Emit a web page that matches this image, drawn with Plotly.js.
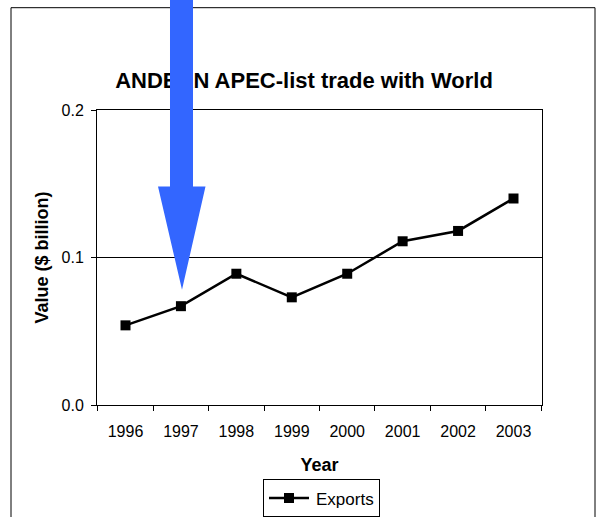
<!DOCTYPE html>
<html>
<head>
<meta charset="utf-8">
<script src="https://cdn.plot.ly/plotly-3.0.1.min.js"></script>
<style>
  html, body { margin: 0; padding: 0; background: #fff; overflow: hidden; }
  #wrap { width: 596px; height: 517px; overflow: hidden; position: relative; }
  #chart { width: 596px; height: 530px; }
</style>
</head>
<body>
<div id="wrap"><div id="chart"></div></div>
<script>
// ---- data ----
var years = ['1996', '1997', '1998', '1999', '2000', '2001', '2002', '2003'];
var exportsValues = [0.054, 0.067, 0.089, 0.073, 0.089, 0.111, 0.118, 0.140];
var seriesName = 'Exports';
var chartTitle = 'ANDEAN APEC-list trade with World';
var xTitle = 'Year';
var yTitle = 'Value ($ billion)';
var yTickValues = [0, 0.1, 0.2];

var FONT = 'Liberation Sans, Arial, sans-serif';
var H = 530; // figure is a little taller than the view; the frame runs off the bottom as in the reference

var trace = {
  type: 'scatter',
  mode: 'lines+markers',
  x: years,
  y: exportsValues,
  name: seriesName,
  line: { color: '#000000', width: 2.5 },
  marker: { symbol: 'square', size: 10, color: '#000000' },
  showlegend: true
};

var layout = {
  width: 596,
  height: H,
  margin: { l: 97, r: 54, t: 110, b: H - 407 },
  paper_bgcolor: '#ffffff',
  plot_bgcolor: '#ffffff',
  font: { family: FONT, color: '#000000', size: 16 },
  title: {
    text: '<b>' + chartTitle + '</b>',
    font: { family: FONT, size: 22, color: '#000000' },
    x: 304 / 596,
    xanchor: 'center',
    xref: 'container',
    y: 1 - 80 / H,
    yanchor: 'middle',
    yref: 'container'
  },
  xaxis: {
    type: 'category',
    tickson: 'boundaries',
    ticks: 'outside',
    ticklen: 5,
    tickcolor: '#000000',
    tickwidth: 1,
    showline: true,
    linecolor: '#000000',
    linewidth: 1,
    mirror: true,
    showgrid: false,
    zeroline: false,
    tickangle: 0,
    ticklabelstandoff: 12,
    tickfont: { family: FONT, size: 16, color: '#000000' },
    title: {
      text: '<b>' + xTitle + '</b>',
      font: { family: FONT, size: 18, color: '#000000' },
      standoff: 19
    },
    automargin: false
  },
  yaxis: {
    range: [0, 0.2],
    tickvals: yTickValues,
    tickformat: '.1f',
    ticks: 'outside',
    ticklen: 5,
    tickcolor: '#000000',
    tickwidth: 1,
    showline: true,
    linecolor: '#000000',
    linewidth: 1,
    mirror: true,
    showgrid: true,
    gridcolor: '#000000',
    gridwidth: 1,
    zeroline: false,
    ticklabelstandoff: 4,
    tickfont: { family: FONT, size: 16, color: '#000000' },
    title: {
      text: '<b>' + yTitle + '</b>',
      font: { family: FONT, size: 18, color: '#000000' },
      standoff: 8
    },
    automargin: false
  },
  legend: {
    x: (263 - 97) / 445,
    xanchor: 'left',
    y: (407 - 482) / 297,
    yanchor: 'top',
    itemwidth: 42,
    bgcolor: '#ffffff',
    bordercolor: '#000000',
    borderwidth: 1,
    font: { family: FONT, size: 17, color: '#000000' }
  },
  shapes: [
    {
      type: 'rect', xref: 'paper', yref: 'paper', layer: 'below',
      x0: (11 - 97) / 445, x1: (595 - 97) / 445,
      y0: (407 - 540) / 297, y1: (407 - 7) / 297,
      line: { color: '#000000', width: 1 }, fillcolor: 'rgba(0,0,0,0)'
    },
    {
      type: 'path', xref: 'paper', yref: 'paper', layer: 'above',
      path: 'M 0.16404,1.3771 L 0.21573,1.3771 L 0.21573,0.74074 L 0.24382,0.74074 L 0.19101,0.39057 L 0.13708,0.74074 L 0.16404,0.74074 Z',
      fillcolor: '#3366FF',
      line: { width: 0 }
    }
  ]
};

Plotly.newPlot('chart', [trace], layout, { displayModeBar: false, staticPlot: true }).then(function (gd) {
  // bring the arrow above the title, as in the reference
  var above = gd.querySelector('.layer-above');
  var info = gd.querySelector('.infolayer');
  if (above && info && info.parentNode) {
    info.parentNode.appendChild(above);
  }
  // longer legend sample line (Excel style), marker centred on it
  var lp = gd.querySelector('.legend .legendlines path');
  if (lp) lp.setAttribute('d', 'M5,0h40');
  var mp = gd.querySelector('.legend .legendpoints path');
  if (mp) mp.setAttribute('transform', 'translate(25,0)');
});
</script>
</body>
</html>
